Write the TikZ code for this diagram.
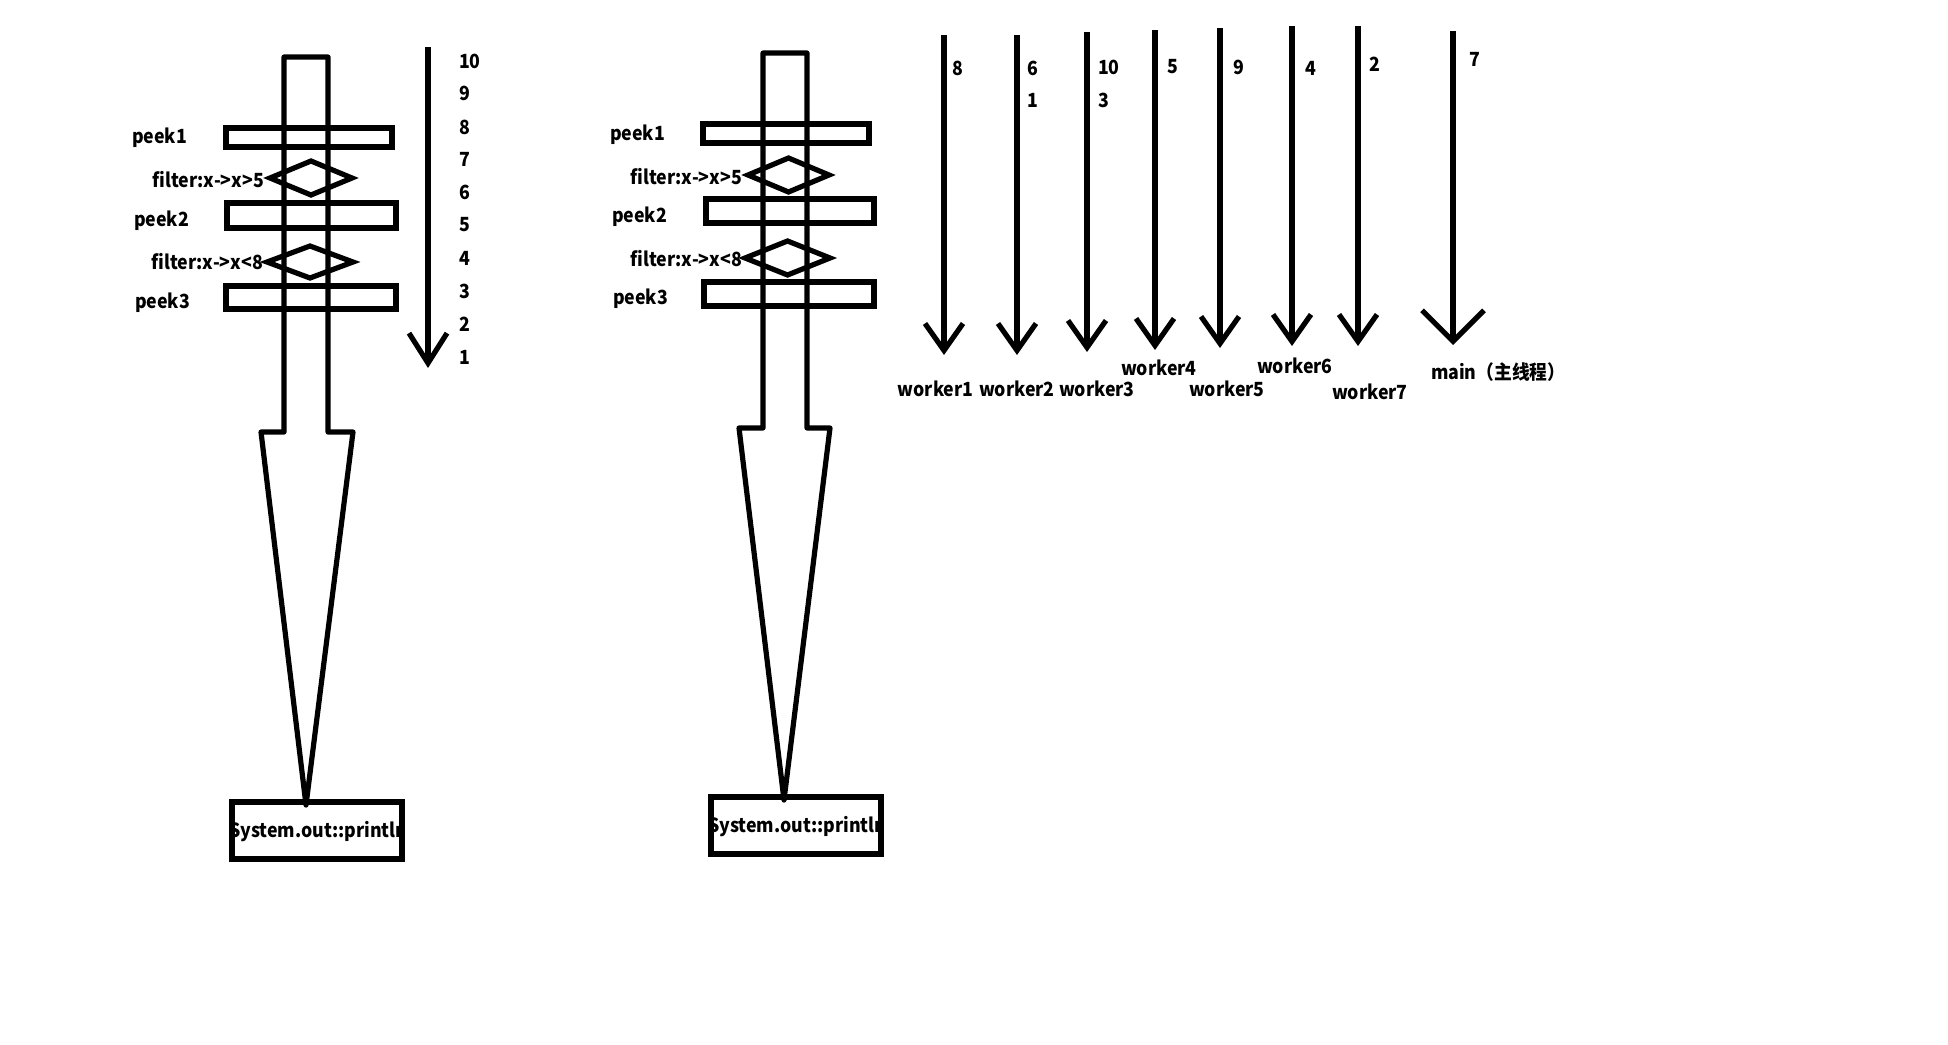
\documentclass[tikz,border=0pt]{standalone}
\usepackage{fontspec}
\setmainfont{Noto Sans CJK SC}[FakeStretch=0.91]
\usetikzlibrary{arrows.meta,shapes.geometric}
\tikzset{
  ink/.style={line width=5.2pt, draw=black},
  bar/.style={ink, rectangle, inner sep=0pt, outer sep=0pt},
  gate/.style={ink, diamond, inner sep=0pt, outer sep=0pt},
  lbl/.style={inner sep=0pt, outer sep=0pt, font=\fontsize{19.5}{22}\selectfont\bfseries},
  flow/.style={ink, -{Straight Barb[length=27pt,width=38pt]}},
  bigflow/.style={ink, -{Straight Barb[length=31pt,width=62pt]}},
}
\begin{document}
\begin{tikzpicture}[x=1pt,y=-1pt]
\useasboundingbox[fill=white] (0,0) rectangle (1948,1044);

% ---------------- left stream ----------------
\draw[ink, line join=round] (284,57) -- (328,57) -- (328,432) -- (353,432) -- (306,805)
  -- (261,432) -- (284,432) -- cycle;
\node[bar, minimum width=166pt, minimum height=19pt] (Lp1) at (309,137.5) {};
\node[gate, minimum width=82pt, minimum height=34pt] (Lf1) at (311,178) {};
\node[bar, minimum width=169pt, minimum height=25pt] (Lp2) at (311.5,215.5) {};
\node[gate, minimum width=86pt, minimum height=32pt] (Lf2) at (310,262) {};
\node[bar, minimum width=170pt, minimum height=23pt] (Lp3) at (311,297.5) {};
\node[lbl, anchor=west] (Lp1t) at (132,138) {peek1};
\node[lbl, anchor=east] (Lf1t) at (264,180) {filter:x->x>5};
\node[lbl, anchor=west] (Lp2t) at (134,221) {peek2};
\node[lbl, anchor=east] (Lf2t) at (263,262) {filter:x->x<8};
\node[lbl, anchor=west] (Lp3t) at (135,303) {peek3};
\begin{scope}
  \clip (232,802) rectangle (402,859);
  \node[lbl, anchor=west] (Lsyst) at (229,832) {System.out::println};
\end{scope}
\node[bar, minimum width=170pt, minimum height=57pt] (Lsys) at (317,830.5) {};

\coordinate (Ltop) at (428,47);
\coordinate (Lbot) at (428,368);
\draw[flow, -{Straight Barb[length=30pt,width=38pt]}] (Ltop) -- (Lbot);
\foreach \n/\y in {10/61,9/93,8/127,7/159,6/192,5/225,4/258,3/291,2/324,1/357}
  \node[lbl, anchor=west] (Ln\n) at (459,\y) {\n};

% ---------------- middle stream ----------------
\draw[ink, line join=round] (763,53) -- (807,53) -- (807,428) -- (830,428) -- (784,800)
  -- (739,428) -- (763,428) -- cycle;
\node[bar, minimum width=166pt, minimum height=19pt] (Mp1) at (786,133.5) {};
\node[gate, minimum width=81pt, minimum height=34pt] (Mf1) at (788.5,175) {};
\node[bar, minimum width=168pt, minimum height=24pt] (Mp2) at (790,211) {};
\node[gate, minimum width=85pt, minimum height=34pt] (Mf2) at (787.5,258) {};
\node[bar, minimum width=170pt, minimum height=24pt] (Mp3) at (789,294) {};
\node[lbl, anchor=west] (Mp1t) at (610,135) {peek1};
\node[lbl, anchor=east] (Mf1t) at (742,177) {filter:x->x>5};
\node[lbl, anchor=west] (Mp2t) at (612,217) {peek2};
\node[lbl, anchor=east] (Mf2t) at (742,259) {filter:x->x<8};
\node[lbl, anchor=west] (Mp3t) at (613,299) {peek3};
\begin{scope}
  \clip (711,797) rectangle (881,854);
  \node[lbl, anchor=west] (Msyst) at (708,827) {System.out::println};
\end{scope}
\node[bar, minimum width=170pt, minimum height=57pt] (Msys) at (796,825.5) {};

% ---------------- worker threads ----------------
\foreach \i/\x/\t/\b in {1/944/35/355,2/1017/35/355,3/1087/32/352,4/1155/30/350,
                          5/1220/28/348,6/1292/26/346,7/1358/26/346}{
  \coordinate (W\i top) at (\x,\t);
  \coordinate (W\i bot) at (\x,\b);
  \draw[flow] (W\i top) -- (W\i bot);
}
\coordinate (Wmtop) at (1453,31);
\coordinate (Wmbot) at (1453,345);
\draw[bigflow] (Wmtop) -- (Wmbot);

\node[lbl] (W1l) at (935.5,389) {worker1};
\node[lbl] (W2l) at (1017,389) {worker2};
\node[lbl] (W3l) at (1097,389) {worker3};
\node[lbl] (W4l) at (1159,368) {worker4};
\node[lbl] (W5l) at (1227,389) {worker5};
\node[lbl] (W6l) at (1295,366) {worker6};
\node[lbl] (W7l) at (1370,392) {worker7};
\node[lbl, anchor=west] (Wml) at (1431,372) {main（主线程）};

\node[lbl, anchor=west] (v8) at (952,68) {8};
\node[lbl, anchor=west] (v6) at (1027,68) {6};
\node[lbl, anchor=west] (v1) at (1027,100) {1};
\node[lbl, anchor=west] (v10) at (1098,67) {10};
\node[lbl, anchor=west] (v3) at (1098,100) {3};
\node[lbl, anchor=west] (v5) at (1167,67) {5};
\node[lbl, anchor=west] (v9) at (1233,67) {9};
\node[lbl, anchor=west] (v4) at (1305,68) {4};
\node[lbl, anchor=west] (v2) at (1369,64) {2};
\node[lbl, anchor=west] (v7) at (1469,59) {7};
\end{tikzpicture}
\end{document}
